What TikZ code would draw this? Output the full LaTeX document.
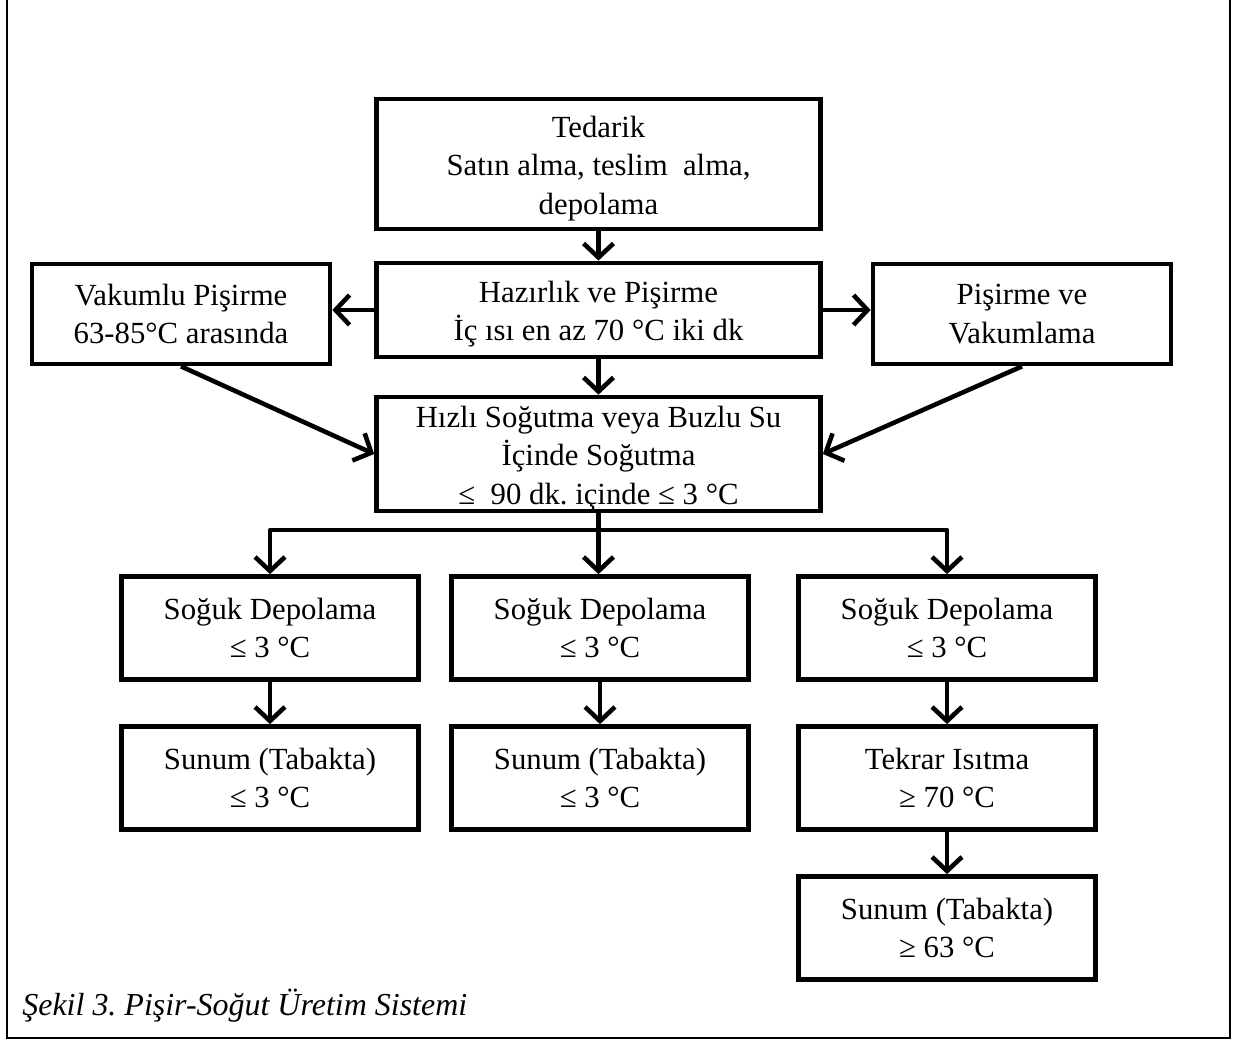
\documentclass[tikz,border=0pt]{standalone}
\usepackage{fontspec}
\setmainfont{Liberation Serif}
\usetikzlibrary{arrows.meta}
\frenchspacing
% invisible strut that lowers a box's text a little
\newcommand{\topstrut}{\rule{0pt}{17pt}}
\begin{document}
\begin{tikzpicture}[x=0.02cm,y=-0.02cm,
  box/.style={draw, line width=2.7pt, inner sep=0pt, align=center,
    font=\fontsize{17.5}{22}\selectfont,
    minimum width=5.94cm, minimum height=2.06cm},
  wide/.style={box, minimum width=8.88cm},
  arr/.style={line width=2.6pt, line join=round,
    -{Straight Barb[length=8pt,width=17pt]}},
  link/.style={line width=2.6pt, line join=round},
  frame/.style={line width=1.5pt}]
\useasboundingbox (0,0) rectangle (1240,1041);

% page frame (open at the top)
\draw[frame] (7,0) -- (7,1038) -- (1230,1038) -- (1230,0);

% main column
\node[wide, minimum height=2.6cm] (ted) at (598.5,164)
  {\topstrut Tedarik\\Satın alma, teslim\ \ alma,\\depolama};
\node[wide, minimum height=1.88cm] (haz) at (598.5,310)
  {\topstrut Hazırlık ve Pişirme\\İç ısı en az 70 °C iki dk};
\node[box, minimum width=5.96cm, minimum height=2.0cm] (vak) at (181,314)
  {Vakumlu Pişirme\\63-85°C arasında};
\node[box, minimum width=5.96cm, minimum height=2.0cm] (pv) at (1022,314)
  {Pişirme ve\\Vakumlama};
\node[wide, minimum height=2.28cm] (hiz) at (598.5,454)
  {\topstrut Hızlı Soğutma veya Buzlu Su\\İçinde Soğutma\\≤\ \ 90 dk. içinde ≤ 3 °C};

% three branches
\node[box] (s1) at (270,628) {Soğuk Depolama\\≤ 3 °C};
\node[box] (s2) at (600,628) {Soğuk Depolama\\≤ 3 °C};
\node[box] (s3) at (947,628) {Soğuk Depolama\\≤ 3 °C};
\node[box] (u1) at (270,778) {Sunum (Tabakta)\\≤ 3 °C};
\node[box] (u2) at (600,778) {Sunum (Tabakta)\\≤ 3 °C};
\node[box] (tk) at (947,778) {Tekrar Isıtma\\≥ 70 °C};
\node[box] (u3) at (947,928) {Sunum (Tabakta)\\≥ 63 °C};

% caption
\node[anchor=base west, inner sep=0pt,
  font=\fontsize{18.2}{22}\selectfont\itshape] (cap) at (22,1015)
  {Şekil 3. Pişir-Soğut Üretim Sistemi};

% connectors
\draw[arr] (ted.south) -- (haz.north);
\draw[arr] (haz.south) -- (hiz.north);
\draw[arr] (haz.west) -- (haz.west -| vak.east);
\draw[arr] (haz.east) -- (haz.east -| pv.west);
\draw[arr] (vak.south) -- (hiz.west);
\draw[arr] (pv.south) -- (hiz.east);

\coordinate (br) at (598.5,530);
\draw[link] (hiz.south) -- (br);
\draw[arr] (br) -| (s1.north);
\draw[arr] (br) -| (s3.north);
\draw[arr] (hiz.south) -- (hiz.south |- s2.north);

\draw[arr] (s1.south) -- (u1.north);
\draw[arr] (s2.south) -- (u2.north);
\draw[arr] (s3.south) -- (tk.north);
\draw[arr] (tk.south) -- (u3.north);
\end{tikzpicture}
\end{document}
